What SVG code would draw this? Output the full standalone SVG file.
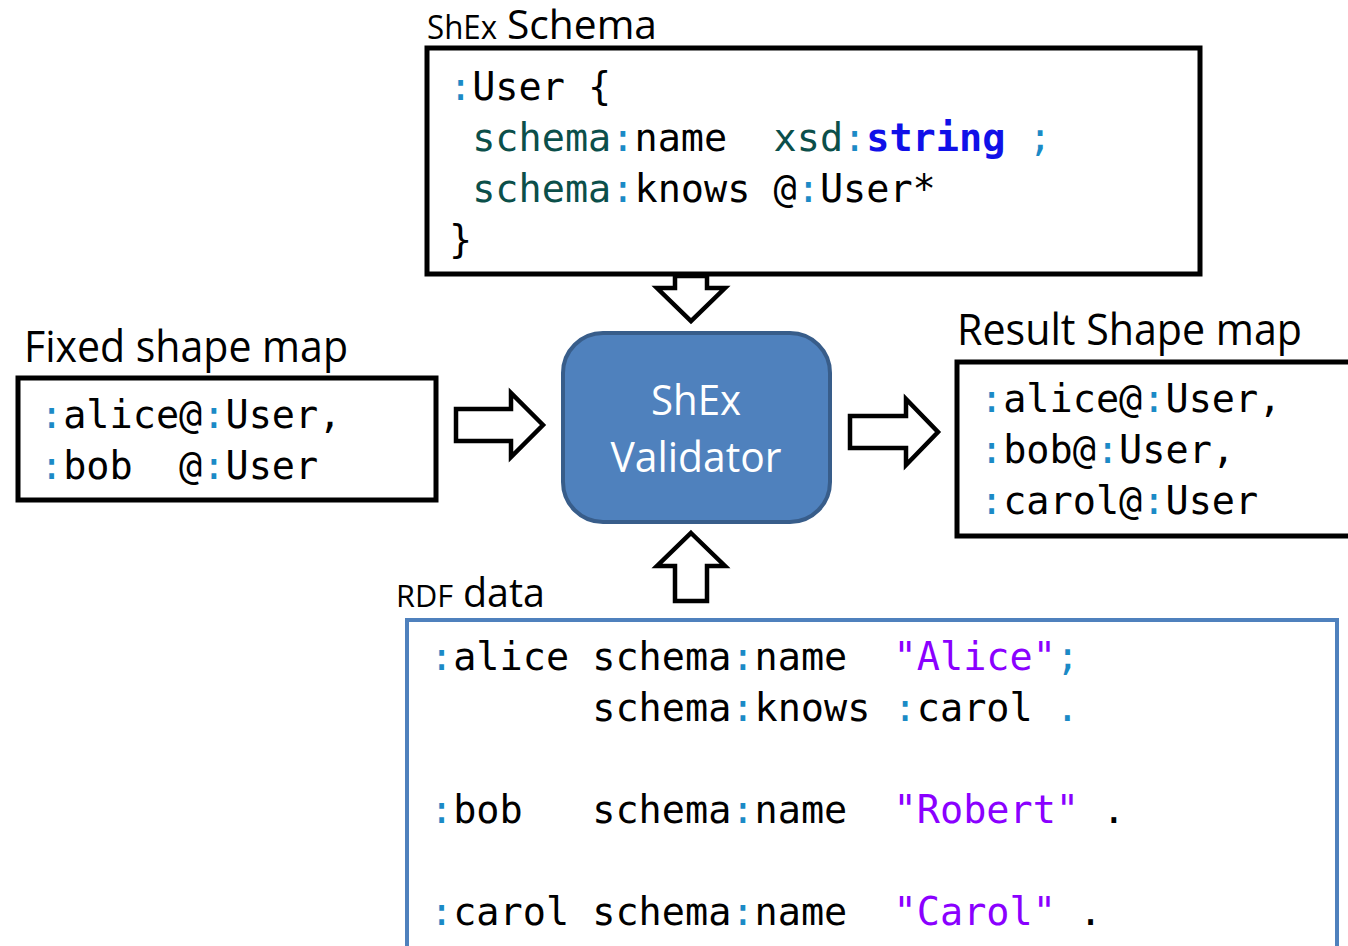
<svg xmlns="http://www.w3.org/2000/svg" width="1348" height="946" viewBox="0 0 1348 946">
  <style>
    .box { fill: #ffffff; stroke: #000000; stroke-width: 5; }
    .code { font-family: "DejaVu Sans Mono", "Liberation Mono", monospace; font-size: 38.5px; fill: #000000; white-space: pre; }
    .lbl { font-family: "Open Sans", "Noto Sans", sans-serif; fill: #000000; }
    .c { fill: #1b8ac6; }
    .ns { fill: #0b4f4a; }
    .kw { fill: #1010e8; font-weight: bold; }
    .str { fill: #8a00ff; }
    .arrow { fill: #ffffff; stroke: #000000; stroke-width: 4.5; stroke-linejoin: miter; }
  </style>

  <!-- ShEx schema -->
  <g id="schema">
    <text class="lbl" y="39"><tspan x="427" font-size="32" textLength="70" lengthAdjust="spacingAndGlyphs">ShEx</tspan><tspan x="507" font-size="41" textLength="150" lengthAdjust="spacingAndGlyphs">Schema</tspan></text>
    <rect class="box" x="427" y="48" width="773" height="226"/>
    <text class="code" x="449" y="100"><tspan class="c">:</tspan>User {</text>
    <text class="code" x="449" y="151"> <tspan class="ns">schema</tspan><tspan class="c">:</tspan>name  <tspan class="ns">xsd</tspan><tspan class="c">:</tspan><tspan class="kw">string</tspan> <tspan class="c">;</tspan></text>
    <text class="code" x="449" y="202"> <tspan class="ns">schema</tspan><tspan class="c">:</tspan>knows @<tspan class="c">:</tspan>User*</text>
    <text class="code" x="449" y="253">}</text>
  </g>

  <!-- Fixed shape map -->
  <g id="fixed-map">
    <text class="lbl" x="24" y="362" font-size="43" textLength="324" lengthAdjust="spacingAndGlyphs">Fixed shape map</text>
    <rect class="box" x="18" y="378" width="418" height="122"/>
    <text class="code" x="40" y="428"><tspan class="c">:</tspan>alice@<tspan class="c">:</tspan>User,</text>
    <text class="code" x="40" y="479"><tspan class="c">:</tspan>bob  @<tspan class="c">:</tspan>User</text>
  </g>

  <!-- Validator -->
  <g id="validator">
    <rect x="563" y="333" width="267" height="189" rx="40" ry="40" fill="#4f81bd" stroke="#385d8a" stroke-width="4"/>
    <text class="lbl" x="696" y="415" font-size="42" style="fill:#ffffff" text-anchor="middle" textLength="90" lengthAdjust="spacingAndGlyphs">ShEx</text>
    <text class="lbl" x="696" y="472" font-size="42" style="fill:#ffffff" text-anchor="middle" textLength="171" lengthAdjust="spacingAndGlyphs">Validator</text>
  </g>

  <!-- Result shape map -->
  <g id="result-map">
    <text class="lbl" x="957" y="345" font-size="43" textLength="345" lengthAdjust="spacingAndGlyphs">Result Shape map</text>
    <rect class="box" x="957" y="362" width="420" height="174"/>
    <text class="code" x="980" y="412"><tspan class="c">:</tspan>alice@<tspan class="c">:</tspan>User,</text>
    <text class="code" x="980" y="463"><tspan class="c">:</tspan>bob@<tspan class="c">:</tspan>User,</text>
    <text class="code" x="980" y="514"><tspan class="c">:</tspan>carol@<tspan class="c">:</tspan>User</text>
  </g>

  <!-- RDF data -->
  <g id="rdf-data">
    <text class="lbl" y="607"><tspan x="396" font-size="31.5" textLength="57" lengthAdjust="spacingAndGlyphs">RDF</tspan><tspan x="463" font-size="40.5" textLength="82" lengthAdjust="spacingAndGlyphs">data</tspan></text>
    <rect x="407" y="620" width="930" height="400" fill="#ffffff" stroke="#4f81bd" stroke-width="4"/>
    <text class="code" x="430" y="670"><tspan class="c">:</tspan>alice schema<tspan class="c">:</tspan>name  <tspan class="str">"Alice"</tspan><tspan class="c">;</tspan></text>
    <text class="code" x="430" y="721">       schema<tspan class="c">:</tspan>knows <tspan class="c">:</tspan>carol <tspan class="c">.</tspan></text>
    <text class="code" x="430" y="823"><tspan class="c">:</tspan>bob   schema<tspan class="c">:</tspan>name  <tspan class="str">"Robert"</tspan> .</text>
    <text class="code" x="430" y="925"><tspan class="c">:</tspan>carol schema<tspan class="c">:</tspan>name  <tspan class="str">"Carol"</tspan> .</text>
  </g>

  <!-- Block arrows -->
  <g id="connectors">
    <polygon class="arrow" points="675,276 707,276 707,288 725,288 691,321 657,288 675,288"/>
    <polygon class="arrow" points="691,533 725,566 707,566 707,601 675,601 675,566 657,566"/>
    <polygon class="arrow" points="456,409 511,409 511,393 543,425 511,457 511,441 456,441"/>
    <polygon class="arrow" points="850,416 906,416 906,399 938,432 906,465 906,448 850,448"/>
  </g>
</svg>
